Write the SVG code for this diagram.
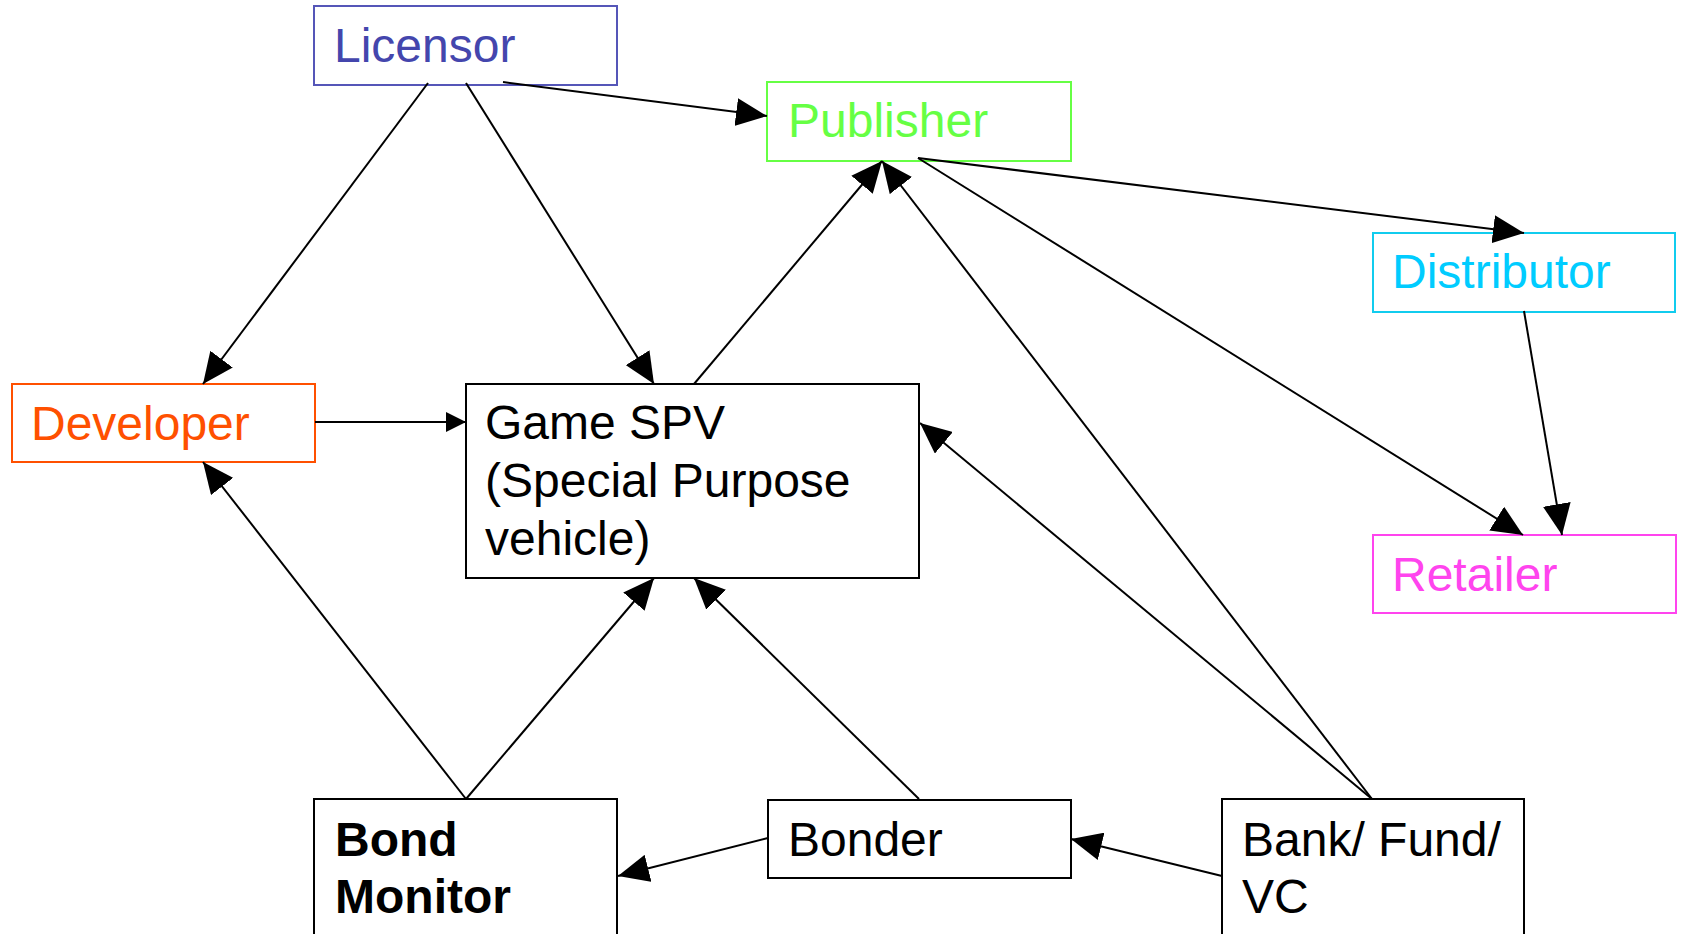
<svg xmlns="http://www.w3.org/2000/svg" width="1681" height="934" viewBox="0 0 1681 934">
  <style>
    .box { fill: #ffffff; stroke-width: 2; }
    .label { font-family: "Liberation Sans", Arial, sans-serif; font-size: 48px; }
    .edge { stroke: #000000; stroke-width: 2; fill: none; marker-end: url(#arrow); }
    .edge.small { marker-end: url(#arrowSmall); }
  </style>
  <defs>
    <marker id="arrow" markerUnits="userSpaceOnUse" markerWidth="31" markerHeight="28" refX="31" refY="14" orient="auto">
      <path d="M0,0 L31,14 L0,28 Z" fill="#000000"/>
    </marker>
    <marker id="arrowSmall" markerUnits="userSpaceOnUse" markerWidth="20" markerHeight="20" refX="20" refY="10" orient="auto">
      <path d="M0,0 L20,10 L0,20 Z" fill="#000000"/>
    </marker>
  </defs>

  <rect width="1681" height="934" fill="#ffffff"/>

  <g id="licensor">
    <rect class="box" x="314" y="6" width="303" height="79" stroke="#5556b8"/>
    <text class="label" x="334" y="62" fill="#4446ad">Licensor</text>
  </g>

  <g id="publisher">
    <rect class="box" x="767" y="82" width="304" height="79" stroke="#66ff44"/>
    <text class="label" x="788" y="137" fill="#66ff44">Publisher</text>
  </g>

  <g id="distributor">
    <rect class="box" x="1373" y="233" width="302" height="79" stroke="#11ccee"/>
    <text class="label" x="1392" y="288" fill="#00ccff">Distributor</text>
  </g>

  <g id="developer">
    <rect class="box" x="12" y="384" width="303" height="78" stroke="#ff5000"/>
    <text class="label" x="31" y="440" fill="#ff5000">Developer</text>
  </g>

  <g id="game-spv">
    <rect class="box" x="466" y="384" width="453" height="194" stroke="#000000"/>
    <text class="label" x="485" y="439" fill="#000000">Game SPV</text>
    <text class="label" x="485" y="497" fill="#000000">(Special Purpose</text>
    <text class="label" x="485" y="555" fill="#000000">vehicle)</text>
  </g>

  <g id="retailer">
    <rect class="box" x="1373" y="535" width="303" height="78" stroke="#ff44ee"/>
    <text class="label" x="1392" y="591" fill="#ff44ee">Retailer</text>
  </g>

  <g id="bond-monitor">
    <rect class="box" x="314" y="799" width="303" height="150" stroke="#000000"/>
    <text class="label" x="335" y="856" fill="#000000" font-weight="bold">Bond</text>
    <text class="label" x="335" y="913" fill="#000000" font-weight="bold">Monitor</text>
  </g>

  <g id="bonder">
    <rect class="box" x="768" y="800" width="303" height="78" stroke="#000000"/>
    <text class="label" x="788" y="856" fill="#000000">Bonder</text>
  </g>

  <g id="bank-fund-vc">
    <rect class="box" x="1222" y="799" width="302" height="150" stroke="#000000"/>
    <text class="label" x="1242" y="856" fill="#000000">Bank/ Fund/</text>
    <text class="label" x="1242" y="913" fill="#000000">VC</text>
  </g>

  <!-- connectors are drawn over the boxes -->
  <g id="connectors">
    <line class="edge" x1="428" y1="83" x2="203" y2="384"/>
    <line class="edge" x1="466" y1="83" x2="654" y2="384"/>
    <line class="edge" x1="503" y1="82" x2="767" y2="116"/>
    <line class="edge" x1="694" y1="384" x2="882" y2="161"/>
    <line class="edge" x1="1372" y1="799" x2="882" y2="161"/>
    <line class="edge" x1="918" y1="158" x2="1524" y2="233"/>
    <line class="edge" x1="918" y1="158" x2="1523" y2="535"/>
    <line class="edge" x1="1524" y1="311" x2="1562" y2="535"/>
    <line class="edge small" x1="315" y1="422" x2="466" y2="422"/>
    <line class="edge" x1="466" y1="799" x2="203" y2="462"/>
    <line class="edge" x1="466" y1="799" x2="654" y2="578"/>
    <line class="edge" x1="919" y1="799" x2="694" y2="578"/>
    <line class="edge" x1="1372" y1="799" x2="920" y2="423"/>
    <line class="edge" x1="1222" y1="876" x2="1071" y2="839"/>
    <line class="edge" x1="768" y1="838" x2="618" y2="876"/>
  </g>
</svg>
